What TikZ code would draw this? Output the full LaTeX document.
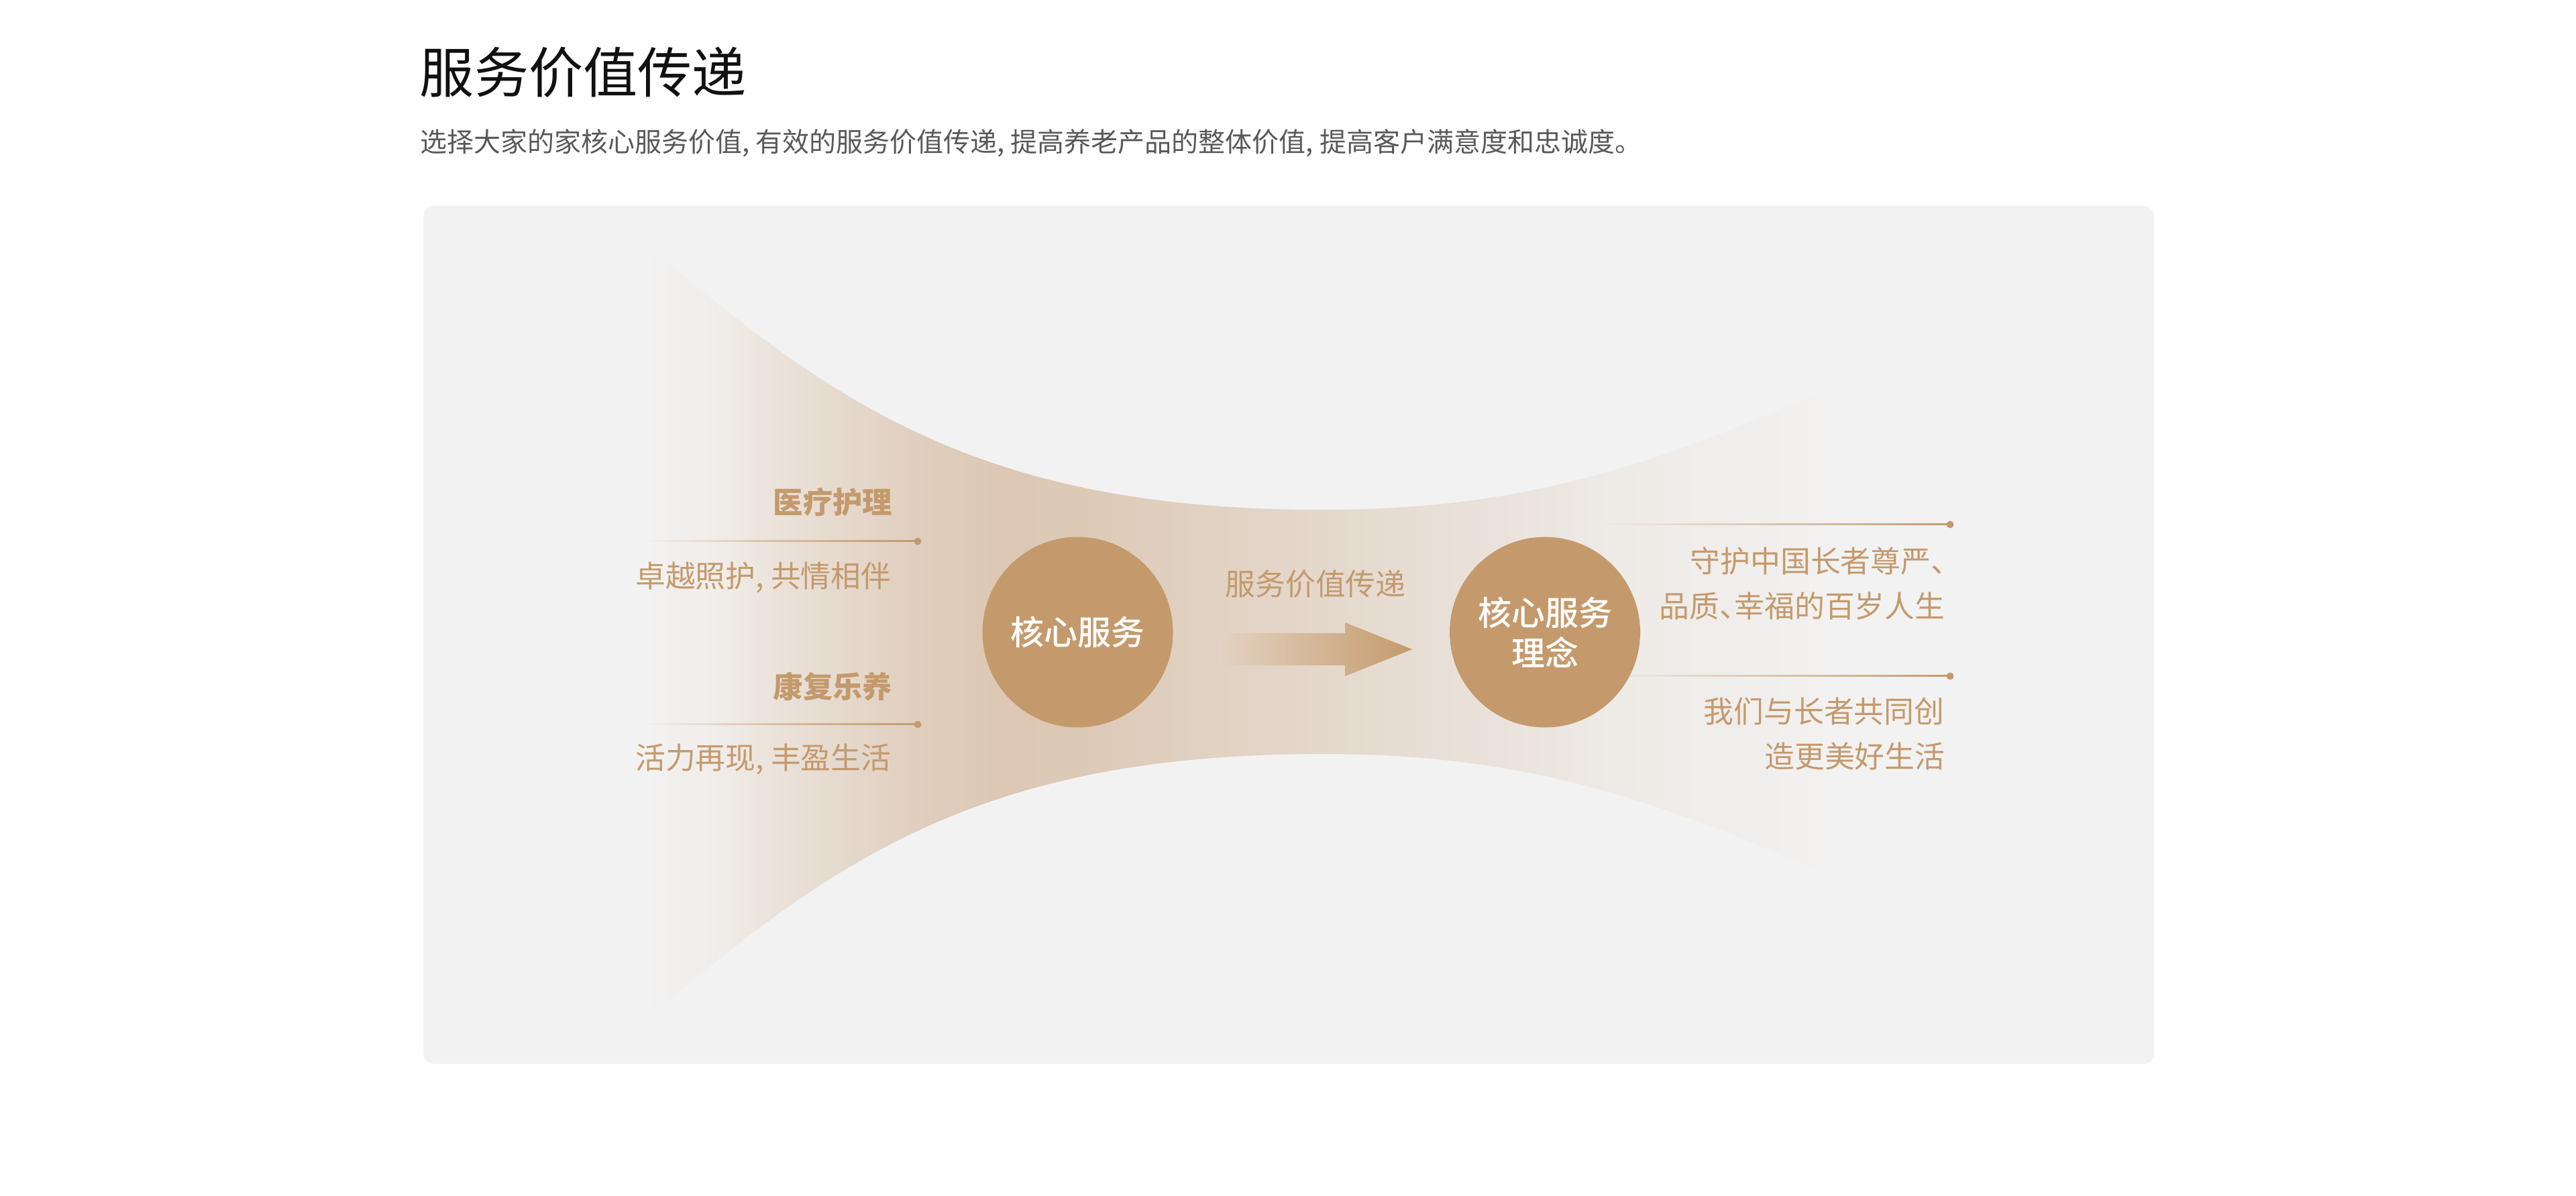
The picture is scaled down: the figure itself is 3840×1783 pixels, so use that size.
\documentclass[tikz,border=0pt]{standalone}
\usepackage{fontspec}
\setmainfont{Noto Sans CJK SC}
\IfFontExistsTF{Noto Sans CJK SC Medium}
  {\newfontfamily\medfont{Noto Sans CJK SC Medium}}
  {\newfontfamily\medfont{Noto Sans CJK SC}[FakeBold=1.5]}
\usetikzlibrary{fadings,calc}
\definecolor{gtan}{HTML}{C49A6C}
\definecolor{panelc}{HTML}{F2F2F2}
\definecolor{titlec}{HTML}{111111}
\definecolor{subc}{HTML}{595959}
\definecolor{fa}{HTML}{F2F2F2}
\definecolor{fb}{HTML}{F0ECE8}
\definecolor{fc}{HTML}{EBE3DB}
\definecolor{fd}{HTML}{E0CFBF}
\definecolor{fe}{HTML}{DCC8B5}
\definecolor{ff}{HTML}{DCC9B6}
\definecolor{fg}{HTML}{E0D0C0}
\definecolor{fh}{HTML}{E7DDD3}
\definecolor{fi}{HTML}{EEEAE6}
\definecolor{fj}{HTML}{F2F1F0}
\definecolor{arrl}{HTML}{E3D3C3}
\tikzfading[name=fadein, left color=transparent!100, right color=transparent!0]
\tikzset{
  titletext/.style={anchor=west, inner sep=0pt, font=\fontsize{20.3}{24}\selectfont, text=titlec},
  subtext/.style={anchor=west, inner sep=0pt, font=\fontsize{10}{12}\selectfont, text=subc},
  labtext/.style={anchor=east, inner sep=0pt, font=\bfseries\fontsize{11.1}{13}\selectfont, text=gtan},
  desctext/.style={inner sep=0pt, font=\fontsize{11.2}{13}\selectfont, text=gtan},
  core/.style={circle, fill=gtan, minimum size=71pt, inner sep=0pt, text=white, font=\medfont\fontsize{12.5}{15}\selectfont, align=center},
  dotn/.style={circle, fill=gtan, minimum size=2.75pt, inner sep=0pt},
  guide/.style={fill=gtan, path fading=fadein},
}
\newcommand{\guideline}[2]{%
  \begin{scope}
  \clip ($(#1)+(0,-1)$) rectangle ($(#2.center)+(0,1)$);
  \fill[guide] ($(#1)+(0,-60)$) rectangle ($(#2.center)+(0,60)$);
  \end{scope}}
\begin{document}
\begin{tikzpicture}[x=0.25pt,y=-0.25pt]
\useasboundingbox (0,0) rectangle (3840,1783);
\fill[white] (0,0) rectangle (3840,1783);
% heading
\node[titletext] (title) at (625,107.5) {服务价值传递};
\node[subtext] (sub) at (626,213.5) {选择大家的家核心服务价值, 有效的服务价值传递, 提高养老产品的整体价值, 提高客户满意度和忠诚度。};
% panel
\fill[panelc, rounded corners=4pt] (631,307) rectangle (3211,1586);
% funnel
\begin{scope}
\clip (965,365) .. controls (1250,610) and (1472,760) .. (1972,760)
  .. controls (2272,760) and (2467,693) .. (2717,583) -- (2717,1301)
  .. controls (2467,1191) and (2272,1124) .. (1972,1124)
  .. controls (1472,1124) and (1250,1274) .. (965,1519) -- cycle;
\shade[left color=fa,right color=fb] (964,340) rectangle (1081,1560);
\shade[left color=fb,right color=fc] (1080,340) rectangle (1151,1560);
\shade[left color=fc,right color=fd] (1150,340) rectangle (1361,1560);
\shade[left color=fd,right color=fe] (1360,340) rectangle (1481,1560);
\shade[left color=fe,right color=ff] (1480,340) rectangle (1601,1560);
\shade[left color=ff,right color=fg] (1600,340) rectangle (1761,1560);
\shade[left color=fg,right color=fh] (1760,340) rectangle (2101,1560);
\shade[left color=fh,right color=fi] (2100,340) rectangle (2401,1560);
\shade[left color=fi,right color=fj] (2400,340) rectangle (2718,1560);
\end{scope}
% guide lines
\coordinate (l1s) at (960,807);
\node[dotn] (d1) at (1368,807) {};
\guideline{l1s}{d1}
\coordinate (l2s) at (960,1080);
\node[dotn] (d2) at (1368,1080) {};
\guideline{l2s}{d2}
\coordinate (r1s) at (2390,782);
\node[dotn] (rd1) at (2907,782) {};
\guideline{r1s}{rd1}
\coordinate (r2s) at (2390,1008);
\node[dotn] (rd2) at (2907,1008) {};
\guideline{r2s}{rd2}
% circles
\node[core] (c1) at (1606.5,942.5) {核心服务};
\node[core] (c2) at (2303,942.5) {核心服务\\理念};
% arrow
\shade[left color=arrl, right color=gtan] (1817,944) -- (2005,944) -- (2005,928) -- (2105,968) -- (2005,1008) -- (2005,992) -- (1817,992) -- cycle;
\node[desctext] (flow) at (1961,871) {服务价值传递};
% left texts
\node[labtext] (lab1) at (1331,749) {医疗护理};
\node[desctext, anchor=east] (desc1) at (1329,861) {卓越照护, 共情相伴};
\node[labtext] (lab2) at (1331,1023) {康复乐养};
\node[desctext, anchor=east] (desc2) at (1329,1132) {活力再现, 丰盈生活};
% right texts
\node[desctext, anchor=west] (rt1) at (2519,836) {守护中国长者尊严、};
\node[desctext, anchor=east] (rt2) at (2900,903) {品质、\kern-0.5em幸福的百岁人生};
\node[desctext, anchor=east] (rt3) at (2899,1061) {我们与长者共同创};
\node[desctext, anchor=east] (rt4) at (2900,1127) {造更美好生活};
\end{tikzpicture}
\end{document}
